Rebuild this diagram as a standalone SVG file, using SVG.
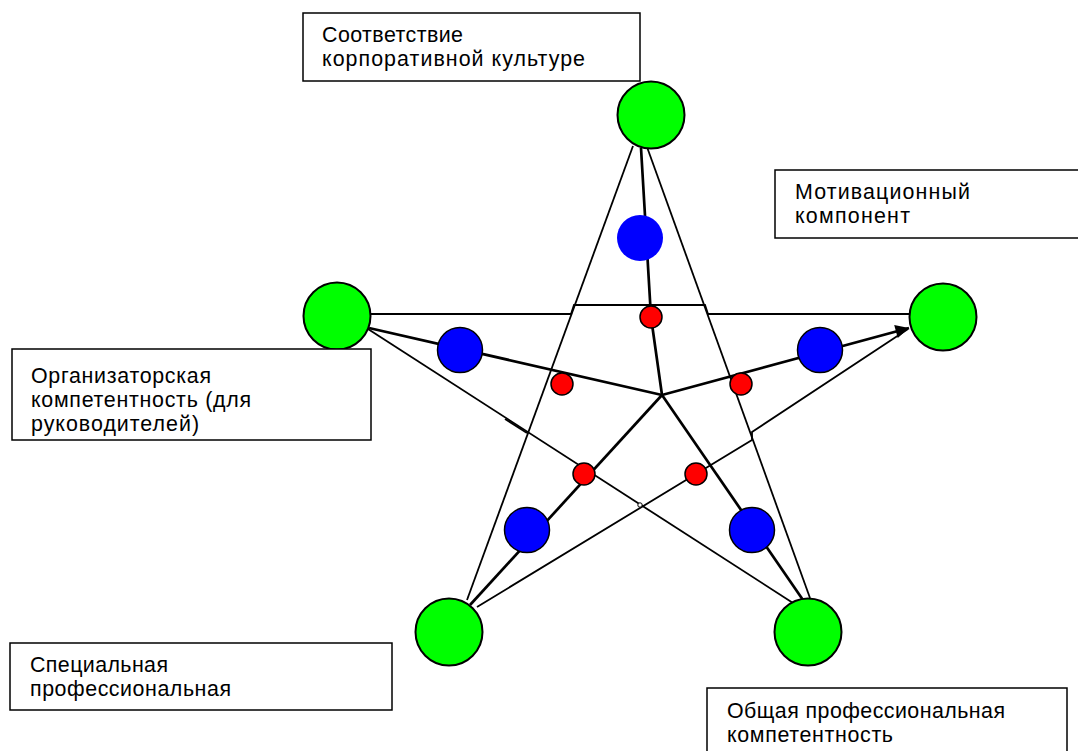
<svg xmlns="http://www.w3.org/2000/svg" width="1078" height="751" viewBox="0 0 1078 751">
<style>
.box{fill:#fff;stroke:#000;stroke-width:1.5}
.lbl{font-family:"Liberation Sans",Arial,sans-serif;font-size:21.4px;fill:#000}
.thin{fill:none;stroke:#000;stroke-width:1.8}
.thick{fill:none;stroke:#000;stroke-width:2.7}
.green{fill:#00ff00;stroke:#000;stroke-width:2}
.blue{fill:#0000ff;stroke:#000;stroke-width:1.5}
.red{fill:#ff0000;stroke:#000;stroke-width:1.5}
</style>
<defs>
<marker id="arr" viewBox="0 0 10 10" refX="10" refY="5" markerWidth="7" markerHeight="5" markerUnits="strokeWidth" orient="auto">
<path d="M0,0 L10,5 L0,10 z" fill="#000"/>
</marker>
</defs>
<rect width="1078" height="751" fill="#fff"/>

<g id="connectors">
<line class="thin" x1="633" y1="146" x2="467" y2="600"/>
<line class="thin" x1="647" y1="147" x2="810" y2="598"/>
<polyline class="thin" points="371,314 571,314 574,305 705,305 708,314 909,314"/>
<line class="thin" x1="368" y1="329" x2="793" y2="603"/>
<line class="thin" x1="505" y1="419" x2="527" y2="433" stroke-width="2.8"/>
<polyline class="thin" points="477,607 752,440 752,432 908,329"/>
<circle cx="640" cy="505" r="2.2" fill="#fff" stroke="#000" stroke-width="1"/>
<polyline class="thick" points="662,395 651,317 641,148"/>
<line class="thick" x1="662" y1="395" x2="369" y2="328"/>
<line class="thick" x1="662" y1="395" x2="909" y2="328" marker-end="url(#arr)"/>
<line class="thick" x1="662" y1="395" x2="470" y2="605"/>
<line class="thick" x1="662" y1="395" x2="803" y2="600"/>
</g>

<g id="node-top"><circle class="green" cx="651" cy="115" r="33.5"/></g>
<g id="node-left"><circle class="green" cx="337" cy="316" r="33.5"/></g>
<g id="node-right"><circle class="green" cx="943" cy="317" r="33.5"/></g>
<g id="node-bottom-left"><circle class="green" cx="449" cy="632" r="33.5"/></g>
<g id="node-bottom-right"><circle class="green" cx="808" cy="632" r="33.5"/></g>

<g id="blue-top"><circle cx="640" cy="238" r="23" fill="#0000ff"/></g>
<g id="blue-left"><circle class="blue" cx="460" cy="350" r="22.5"/></g>
<g id="blue-right"><circle class="blue" cx="820" cy="350" r="22.5"/></g>
<g id="blue-bottom-left"><circle class="blue" cx="527" cy="530" r="22.5"/></g>
<g id="blue-bottom-right"><circle class="blue" cx="752" cy="530" r="22.5"/></g>

<g id="red-top"><circle class="red" cx="651" cy="317" r="11"/></g>
<g id="red-left"><circle class="red" cx="562" cy="384" r="11"/></g>
<g id="red-right"><circle class="red" cx="741" cy="384" r="11"/></g>
<g id="red-bottom-left"><circle class="red" cx="584" cy="474" r="11"/></g>
<g id="red-bottom-right"><circle class="red" cx="696" cy="474" r="11"/></g>

<g id="label-culture">
<rect class="box" x="303" y="13" width="337" height="68"/>
<text class="lbl" x="322" y="42" textLength="141" lengthAdjust="spacing">Соответствие</text>
<text class="lbl" x="322" y="66" textLength="263" lengthAdjust="spacing">корпоративной культуре</text>
</g>
<g id="label-motivation">
<rect class="box" x="775" y="170" width="310" height="68"/>
<text class="lbl" x="795" y="199" textLength="175" lengthAdjust="spacing">Мотивационный</text>
<text class="lbl" x="795" y="223" textLength="115" lengthAdjust="spacing">компонент</text>
</g>
<g id="label-organizational">
<rect class="box" x="12" y="349" width="359" height="91"/>
<text class="lbl" x="31" y="383" textLength="180" lengthAdjust="spacing">Организаторская</text>
<text class="lbl" x="31" y="407" textLength="220" lengthAdjust="spacing">компетентность (для</text>
<text class="lbl" x="31" y="431" textLength="168" lengthAdjust="spacing">руководителей)</text>
</g>
<g id="label-special">
<rect class="box" x="10" y="643" width="382" height="67"/>
<text class="lbl" x="30" y="672" textLength="138" lengthAdjust="spacing">Специальная</text>
<text class="lbl" x="30" y="696" textLength="201" lengthAdjust="spacing">профессиональная</text>
</g>
<g id="label-general">
<rect class="box" x="707" y="688" width="360" height="80"/>
<text class="lbl" x="727" y="718" textLength="278" lengthAdjust="spacing">Общая профессиональная</text>
<text class="lbl" x="727" y="742" textLength="166" lengthAdjust="spacing">компетентность</text>
</g>
</svg>
